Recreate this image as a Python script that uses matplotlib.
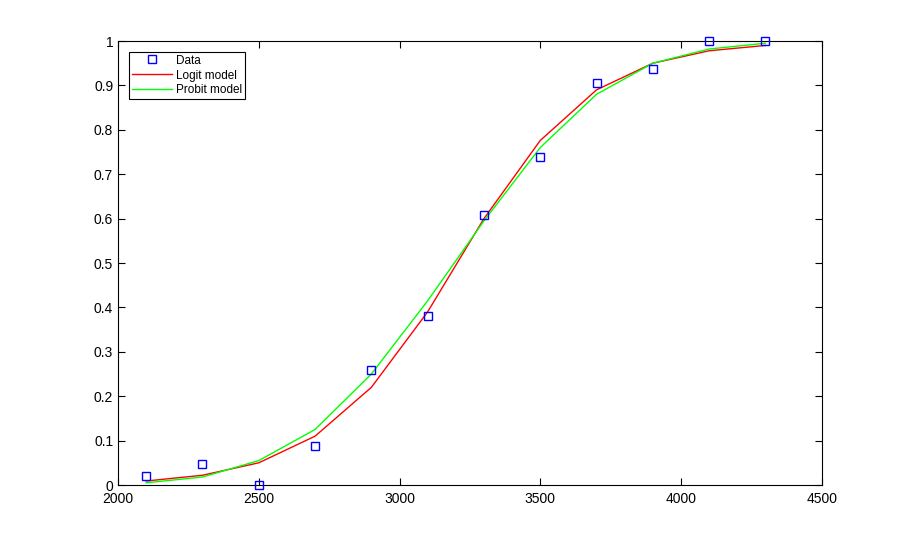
import matplotlib
matplotlib.use("Agg")
import matplotlib.pyplot as plt

# car weight vs proportion failing, with logit / probit fits
weight = [2100, 2300, 2500, 2700, 2900, 3100, 3300, 3500, 3700, 3900, 4100, 4300]
proportion = [0.0208, 0.0476, 0.0, 0.0882, 0.2581, 0.3810, 0.6087, 0.7391, 0.9048, 0.9375, 1.0, 1.0]
logit_fit = [0.009, 0.022, 0.050, 0.110, 0.220, 0.390, 0.600, 0.776, 0.890, 0.950, 0.978, 0.990]
probit_fit = [0.005, 0.018, 0.055, 0.125, 0.250, 0.415, 0.595, 0.760, 0.880, 0.950, 0.982, 0.995]

plt.rcParams['font.family'] = ['Liberation Sans', 'DejaVu Sans']

fig = plt.figure(figsize=(9.08, 5.46), dpi=100)
ax = fig.add_axes([0.13, 0.1117, 0.775, 0.8132])

ax.plot(weight, proportion, 's', color='blue', markerfacecolor='none',
        markersize=5.5, markeredgewidth=1.0, label='Data', clip_on=False, zorder=5)
ax.plot(weight, logit_fit, '-', color='red', linewidth=1.0, label='Logit model')
ax.plot(weight, probit_fit, '-', color='#00ff00', linewidth=1.0, label='Probit model')

ax.set_xlim(2000, 4500)
ax.set_ylim(0, 1)
ax.set_xticks([2000, 2500, 3000, 3500, 4000, 4500])
ax.set_yticks([0, 0.1, 0.2, 0.3, 0.4, 0.5, 0.6, 0.7, 0.8, 0.9, 1])
ax.set_yticklabels(['0', '0.1', '0.2', '0.3', '0.4', '0.5', '0.6', '0.7', '0.8', '0.9', '1'])
ax.tick_params(direction='in', top=True, right=True, length=5, labelsize=10, width=0.8)
ax.tick_params(axis='x', pad=5)
for s in ax.spines.values():
    s.set_linewidth(0.8)

leg = ax.legend(loc='upper left', fontsize=8.5, fancybox=False, framealpha=1,
                edgecolor='black', borderpad=0.25, labelspacing=0.25,
                handlelength=3.4, handletextpad=0.35, borderaxespad=0.9)
leg.get_frame().set_linewidth(0.8)

fig.savefig('out.png', dpi=100)
